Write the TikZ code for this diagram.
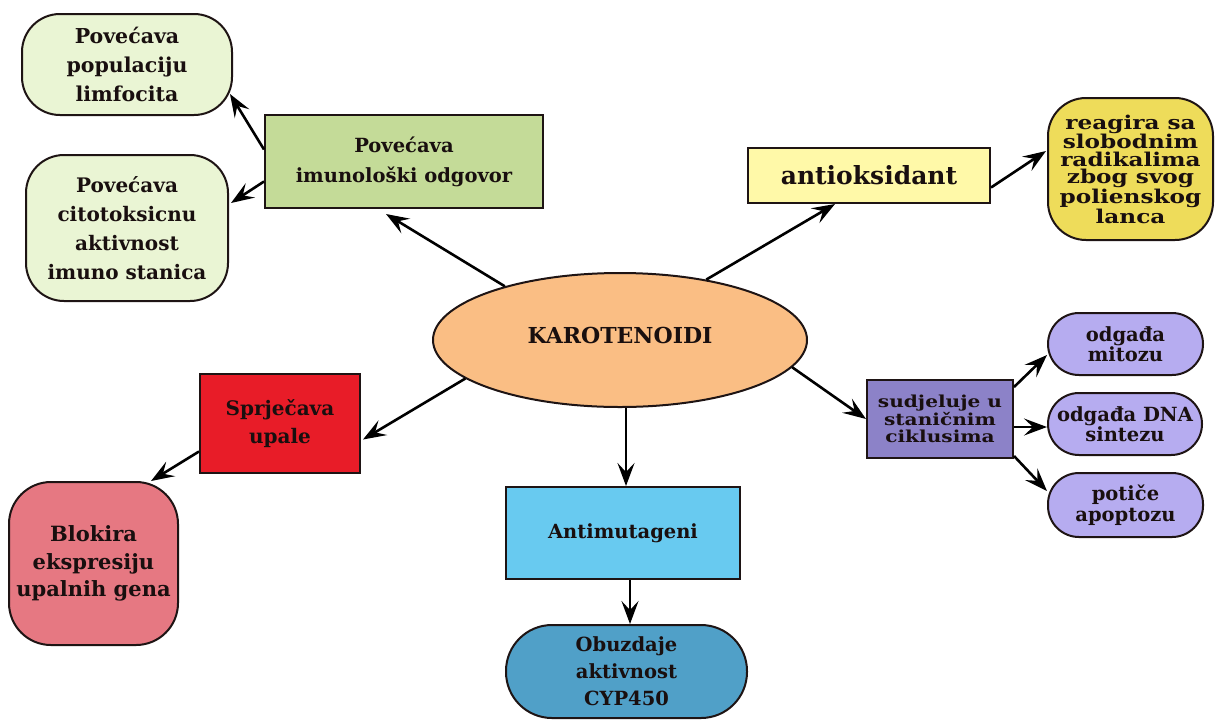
\documentclass[tikz,border=0pt]{standalone}
\usepackage{fontspec}
\setmainfont{DejaVu Serif}
\newfontfamily\wde{DejaVu Serif}[FakeStretch=1.22]
\usetikzlibrary{arrows.meta,calc,shapes.geometric}
\definecolor{cEll}{RGB}{250,190,132}
\definecolor{cGreen}{RGB}{196,219,152}
\definecolor{cLGreen}{RGB}{234,245,212}
\definecolor{cYel}{RGB}{255,249,168}
\definecolor{cYelR}{RGB}{238,220,90}
\definecolor{cPur}{RGB}{140,130,200}
\definecolor{cPurR}{RGB}{182,172,240}
\definecolor{cRed}{RGB}{232,28,40}
\definecolor{cPink}{RGB}{230,120,130}
\definecolor{cBlue}{RGB}{104,202,240}
\definecolor{cBlueR}{RGB}{80,160,200}
\definecolor{cLine}{RGB}{30,20,20}
\definecolor{cText}{RGB}{25,15,15}
\tikzset{
  box/.style={draw=cLine, line width=2pt, inner sep=0pt, align=center,
    font=\bfseries\fontsize{20}{29}\selectfont, text=cText},
  rbox/.style={box, rounded corners=#1},
  arr/.style={draw=black, line width=2.6pt,
    -{Stealth[length=23pt, width=17pt, inset=9pt]}},
}
\begin{document}
\begin{tikzpicture}[x=1pt,y=-1pt]
\useasboundingbox[fill=white] (0,0) rectangle (1217,721);

% central ellipse
\node[box, ellipse, fill=cEll, minimum width=374pt, minimum height=134pt,
  font=\bfseries\fontsize{22}{26}\selectfont] (el) at (620,340) {\raisebox{10pt}{KAROTENOIDI}};

% immune branch
\node[box, fill=cGreen, minimum width=278pt, minimum height=93pt,
  font=\bfseries\fontsize{19.5}{30}\selectfont] (gb) at (404,161.5)
  {Povećava\\imunološki odgovor};
\node[rbox=38pt, fill=cLGreen, minimum width=210pt, minimum height=101pt,
  font=\bfseries\fontsize{20.5}{29}\selectfont] (g1) at (127,64.5)
  {Povećava\\populaciju\\limfocita};
\node[rbox=38pt, fill=cLGreen, minimum width=202pt, minimum height=146pt] (g2) at (127,228)
  {Povećava\\citotoksicnu\\aktivnost\\imuno stanica};

% antioxidant branch
\node[box, fill=cYel, minimum width=242pt, minimum height=55pt,
  font=\bfseries\fontsize{25}{28}\selectfont] (yb) at (869,175.5) {antioksidant};
\node[rbox=38pt, fill=cYelR, minimum width=165pt, minimum height=142pt,
  font=\wde\bfseries\fontsize{19}{17.5}\selectfont] (yr) at (1130.5,169)
  {reagira sa\\slobodnim\\radikalima\\zbog svog\\polienskog\\lanca};

% cell cycle branch
\node[box, fill=cPur, minimum width=146pt, minimum height=78pt,
  font=\wde\bfseries\fontsize{16.5}{16.5}\selectfont] (pb) at (940,419)
  {sudjeluje u\\staničnim\\ciklusima};
\node[rbox=31pt, fill=cPurR, minimum width=155pt, minimum height=62pt,
  font=\bfseries\fontsize{19.5}{20.5}\selectfont] (p1) at (1125.5,344) {odgađa\\mitozu};
\node[rbox=31pt, fill=cPurR, minimum width=154pt, minimum height=62pt,
  font=\bfseries\fontsize{19.5}{20.5}\selectfont] (p2) at (1125,424) {odgađa DNA\\sintezu};
\node[rbox=31pt, fill=cPurR, minimum width=155pt, minimum height=64pt,
  font=\bfseries\fontsize{19.5}{20.5}\selectfont] (p3) at (1125.5,505) {potiče\\apoptozu};

% inflammation branch
\node[box, fill=cRed, minimum width=160pt, minimum height=99pt,
  font=\bfseries\fontsize{20}{28}\selectfont] (rb) at (280,423.5)
  {\raisebox{6pt}{\begin{tabular}{@{}c@{}}Sprječava\\upale\end{tabular}}};
\node[rbox=42pt, fill=cPink, minimum width=169pt, minimum height=163pt,
  font=\bfseries\fontsize{21}{27.5}\selectfont] (pk) at (93.5,563.5)
  {Blokira\\ekspresiju\\upalnih gena};

% antimutagen branch
\node[box, fill=cBlue, minimum width=234pt, minimum height=92pt,
  font=\bfseries\fontsize{19.5}{25}\selectfont] (bb) at (623,533) {Antimutageni};
\node[rbox=46pt, fill=cBlueR, minimum width=241pt, minimum height=93pt,
  font=\bfseries\fontsize{19.5}{27}\selectfont] (br) at (626.5,671.5)
  {Obuzdaje\\aktivnost\\CYP450};

% connectors
\draw[arr] (el.155) -- ($(gb.south)+(-18,5)$);
\draw[arr] ($(gb.west)+(0,-12)$) -- ($(g1.south east)+(-3,-22)$);
\draw[arr] ($(gb.west)+(0,20)$) -- ($(g2.east)+(2,-25)$);

\draw[arr] (el.35) -- ($(yb.south)+(-34,0)$);
\draw[arr] ($(yb.east)+(0,12)$) -- ($(yr.west)+(-1,-18)$);

\draw[arr] (el.-9) -- (pb.west);
\draw[arr] ($(pb.north east)+(0,8)$) -- ($(p1.west)+(0,11)$);
\draw[arr] ($(pb.east)+(0,8)$) -- ($(p2.west)+(0,3)$);
\draw[arr] ($(pb.south east)+(0,-3)$) -- ($(p3.west)+(0,-14)$);

\draw[arr] (el.194) -- ($(rb.east)+(2,16)$);
\draw[arr] ($(rb.west)+(0,28)$) -- ($(pk.north east)+(-28,0)$);

\draw[arr] ($(el.south)+(6,0)$) -- ($(bb.north)+(3,0)$);
\draw[arr] ($(bb.south)+(7,0)$) -- ($(br.north)+(3.5,0)$);
\end{tikzpicture}
\end{document}
